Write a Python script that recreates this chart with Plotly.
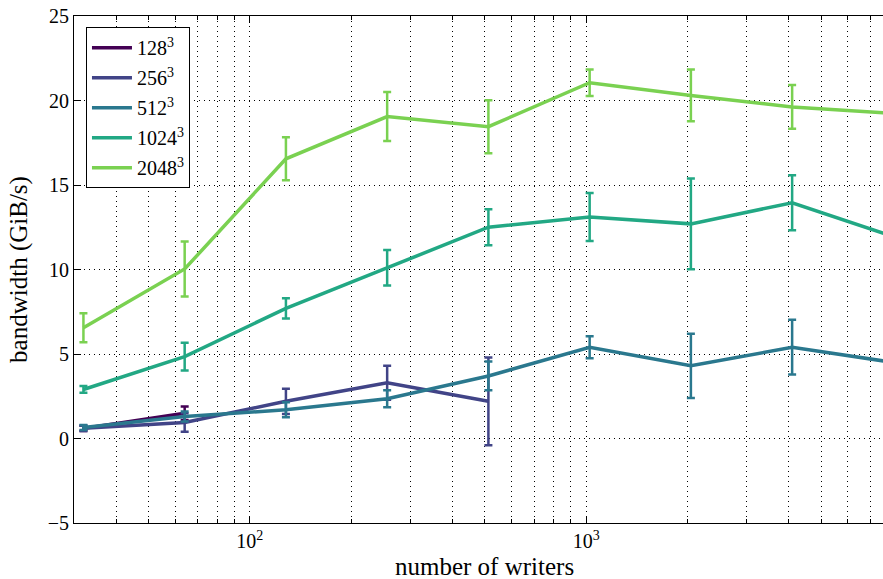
import math
import plotly.graph_objects as go

# ---- data ----
writers = [32, 64, 128, 256, 512, 1024, 2048, 4096, 8192]

labels = ["128<sup>3</sup>", "256<sup>3</sup>", "512<sup>3</sup>", "1024<sup>3</sup>", "2048<sup>3</sup>"]
colors = ["#440154", "#414487", "#2a788e", "#22a884", "#7ad151"]

bw_128 = [0.6, 1.5]
err_128 = [0.15, 0.4]

bw_256 = [0.6, 0.95, 2.2, 3.3, 2.2]
err_256 = [0.15, 0.55, 0.75, 1.0, 2.6]

bw_512 = [0.65, 1.3, 1.7, 2.35, 3.7, 5.4, 4.3, 5.4, 4.5]
err_512 = [0.15, 0.3, 0.45, 0.5, 0.85, 0.65, 1.9, 1.62, 1.0]

bw_1024 = [2.9, 4.85, 7.7, 10.1, 12.5, 13.1, 12.7, 13.95, 11.95]
err_1024 = [0.2, 0.82, 0.6, 1.05, 1.07, 1.42, 2.69, 1.63, 1.5]

bw_2048 = [6.55, 10.03, 16.55, 19.05, 18.45, 21.05, 20.3, 19.62, 19.24]
err_2048 = [0.86, 1.63, 1.27, 1.45, 1.57, 0.78, 1.53, 1.29, 1.2]

series_y = [bw_128, bw_256, bw_512, bw_1024, bw_2048]
series_e = [err_128, err_256, err_512, err_1024, err_2048]

y_ticks = [-5, 0, 5, 10, 15, 20, 25]
x_ticks = [100, 1000]
x_ticktext = ["10<sup>2</sup>", "10<sup>3</sup>"]

FONT = "Liberation Serif, Times New Roman, serif"
GRID = dict(showgrid=True, gridcolor="black", griddash="1px,4px", gridwidth=1)

fig = go.Figure()
for i, (lab, col, ys, es) in enumerate(zip(labels, colors, series_y, series_e)):
    fig.add_trace(go.Scatter(
        x=writers[:len(ys)], y=ys, name=lab, mode="lines",
        line=dict(color=col, width=3.5),
        error_y=dict(type="data", array=es, visible=True, color=col,
                     thickness=2.5, width=4),
        legendgroup=str(i),
    ))

minor_vals = [m * 10 ** k for k in (1, 2, 3) for m in range(2, 10)]

fig.update_layout(
    width=883, height=579,
    margin=dict(l=74, r=0, t=16, b=56),
    plot_bgcolor="white", paper_bgcolor="white",
    font=dict(family=FONT, size=20, color="black"),
    showlegend=True,
    legend=dict(
        x=0.0148, y=0.978, xanchor="left", yanchor="top",
        bgcolor="white", bordercolor="black", borderwidth=1,
        font=dict(family=FONT, size=20, color="black"),
        tracegroupgap=1, itemwidth=40,
    ),
    xaxis=dict(
        type="log",
        range=[math.log10(30), math.log10(7630)],
        tickmode="array", tickvals=x_ticks, ticktext=x_ticktext,
        ticks="inside", ticklen=7, tickcolor="black",
        showline=True, linecolor="black", linewidth=1, mirror="ticks",
        minor=dict(tickmode="array", tickvals=minor_vals, ticks="inside",
                   ticklen=4, tickcolor="black", **GRID),
        zeroline=False,
        tickfont=dict(family=FONT, size=20),
        **GRID,
    ),
    yaxis=dict(
        range=[-5, 25], tickmode="array", tickvals=y_ticks,
        ticks="inside", ticklen=7, tickcolor="black",
        showline=True, linecolor="black", linewidth=1, mirror=False,
        zeroline=False,
        title=dict(text="bandwidth (GiB/s)", font=dict(family=FONT, size=25), standoff=12),
        tickfont=dict(family=FONT, size=20),
        **GRID,
    ),
    annotations=[dict(
        text="number of writers", xref="paper", yref="paper",
        x=(484 - 74) / 809, y=0, yshift=-28, xanchor="center", yanchor="top",
        showarrow=False, font=dict(family=FONT, size=25),
    )],
)

fig.write_html("out.html", config={"displayModeBar": False},
               post_script="document.body.style.margin='0';document.body.style.overflow='hidden';")
